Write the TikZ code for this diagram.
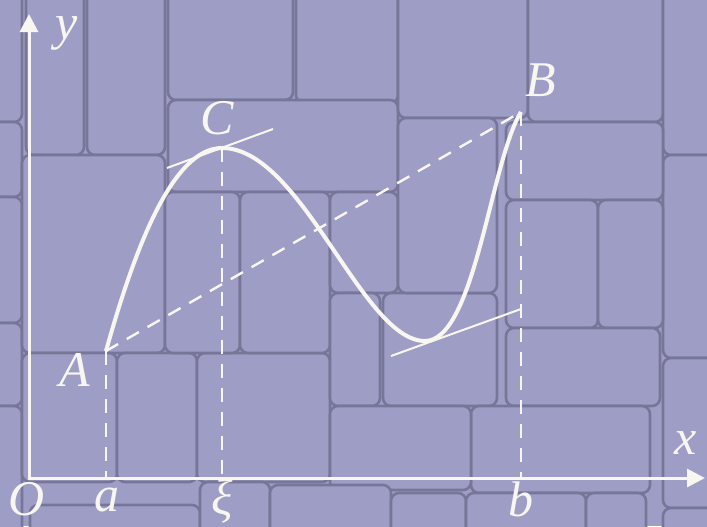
\documentclass[tikz,border=0pt]{standalone}
\usepackage{fontspec}
\setmainfont{Liberation Serif}
\usetikzlibrary{arrows.meta}

\definecolor{wallface}{RGB}{158,157,197}
\definecolor{wallgap}{RGB}{120,118,152}
\definecolor{chalk}{RGB}{248,246,240}

\begin{document}
\begin{tikzpicture}[
    x=0.5pt, y=-0.5pt,
    font=\fontsize{25}{30}\selectfont\itshape,
    brick/.style={draw=wallgap, line width=1.3pt, rounded corners=4pt, fill=wallface},
    axis/.style={draw=chalk, line width=1.5pt,
                 {Triangle[length=9pt,width=9pt]}-{Triangle[length=9pt,width=9pt]}},
    curve/.style={draw=chalk, line width=2pt},
    guide/.style={draw=chalk, line width=1.2pt, dash pattern=on 7pt off 5pt},
    tang/.style={draw=chalk, line width=1pt},
    lbl/.style={text=chalk, inner sep=0pt}
]

\useasboundingbox (0,0) rectangle (707,526);

% stone wall behind the graph
\begin{scope}
\clip (0,0) rectangle (707,526);
\fill[wallface] (0,0) rectangle (707,526);
\foreach \xa/\ya/\xb/\yb in {-10/-10/22/122, -10/122/22/197, -10/197/22/323, -10/323/22/406,
    -10/406/22/540, 26/-10/84/155, 87/-10/165/155, 22/155/165/353, 22/353/117/482,
    117/353/197/482, 197/353/330/482, 168/-10/293/100, 296/-10/398/103, 168/100/398/192,
    165/192/240/353, 240/192/330/353, 330/192/398/293, 330/293/380/406, 383/293/497/406,
    398/-10/528/118, 398/118/497/293, 528/-10/663/122, 663/-10/720/155, 663/155/720/358,
    663/358/720/508, 663/508/720/540, 506/122/663/200, 506/200/598/328, 598/200/663/328,
    506/328/660/406, 471/406/650/493, 330/406/471/490, 30/505/200/540, 200/482/270/540,
    270/485/391/540, 391/493/466/540, 466/493/586/540, 586/493/646/540}
  \draw[brick] (\xa,\ya) rectangle (\xb,\yb);
\end{scope}

% points of the graph
\coordinate (O) at (29,478);
\coordinate (ytip) at (29,14);
\coordinate (xtip) at (705,478);
\coordinate (A) at (106,351);
\coordinate (C) at (222,148);
\coordinate (M) at (425,341);
\coordinate (B) at (521,112);
\coordinate (fa) at (106,478);
\coordinate (fxi) at (222,478);
\coordinate (fb) at (521,478);
\coordinate (tc1) at (167,168);
\coordinate (tc2) at (273,129);
\coordinate (tm1) at (391,356);
\coordinate (tm2) at (521,309);

% axes
\draw[axis] (ytip) -- (O) -- (xtip);

% dashed guides
\draw[guide] (A) -- (B);
\draw[guide] (A) -- (fa);
\draw[guide] (C) -- (fxi);
\draw[guide] (B) -- (fb);

% the curve and the two tangents
\draw[curve] (A) .. controls (134,251) and (172,148) .. (C)
             .. controls (302,148) and (362,341) .. (M)
             .. controls (475,341) and (491,160) .. (B);
\draw[tang] (tc1) -- (tc2);
\draw[tang] (tm1) -- (tm2);

% labels
\node[lbl] (ylab) at (67,33) {y};
\node[lbl] (xlab) at (686,443) {x};
\node[lbl] (olab) at (27,499) {O};
\node[lbl] (alab) at (107,500) {a};
\node[lbl] (xilab) at (222,501) {ξ};
\node[lbl] (blab) at (521,499) {b};
\node[lbl] (Alab) at (75,370) {A};
\node[lbl] (Clab) at (217,118) {C};
\node[lbl] (Blab) at (541,80) {B};

\end{tikzpicture}
\end{document}
